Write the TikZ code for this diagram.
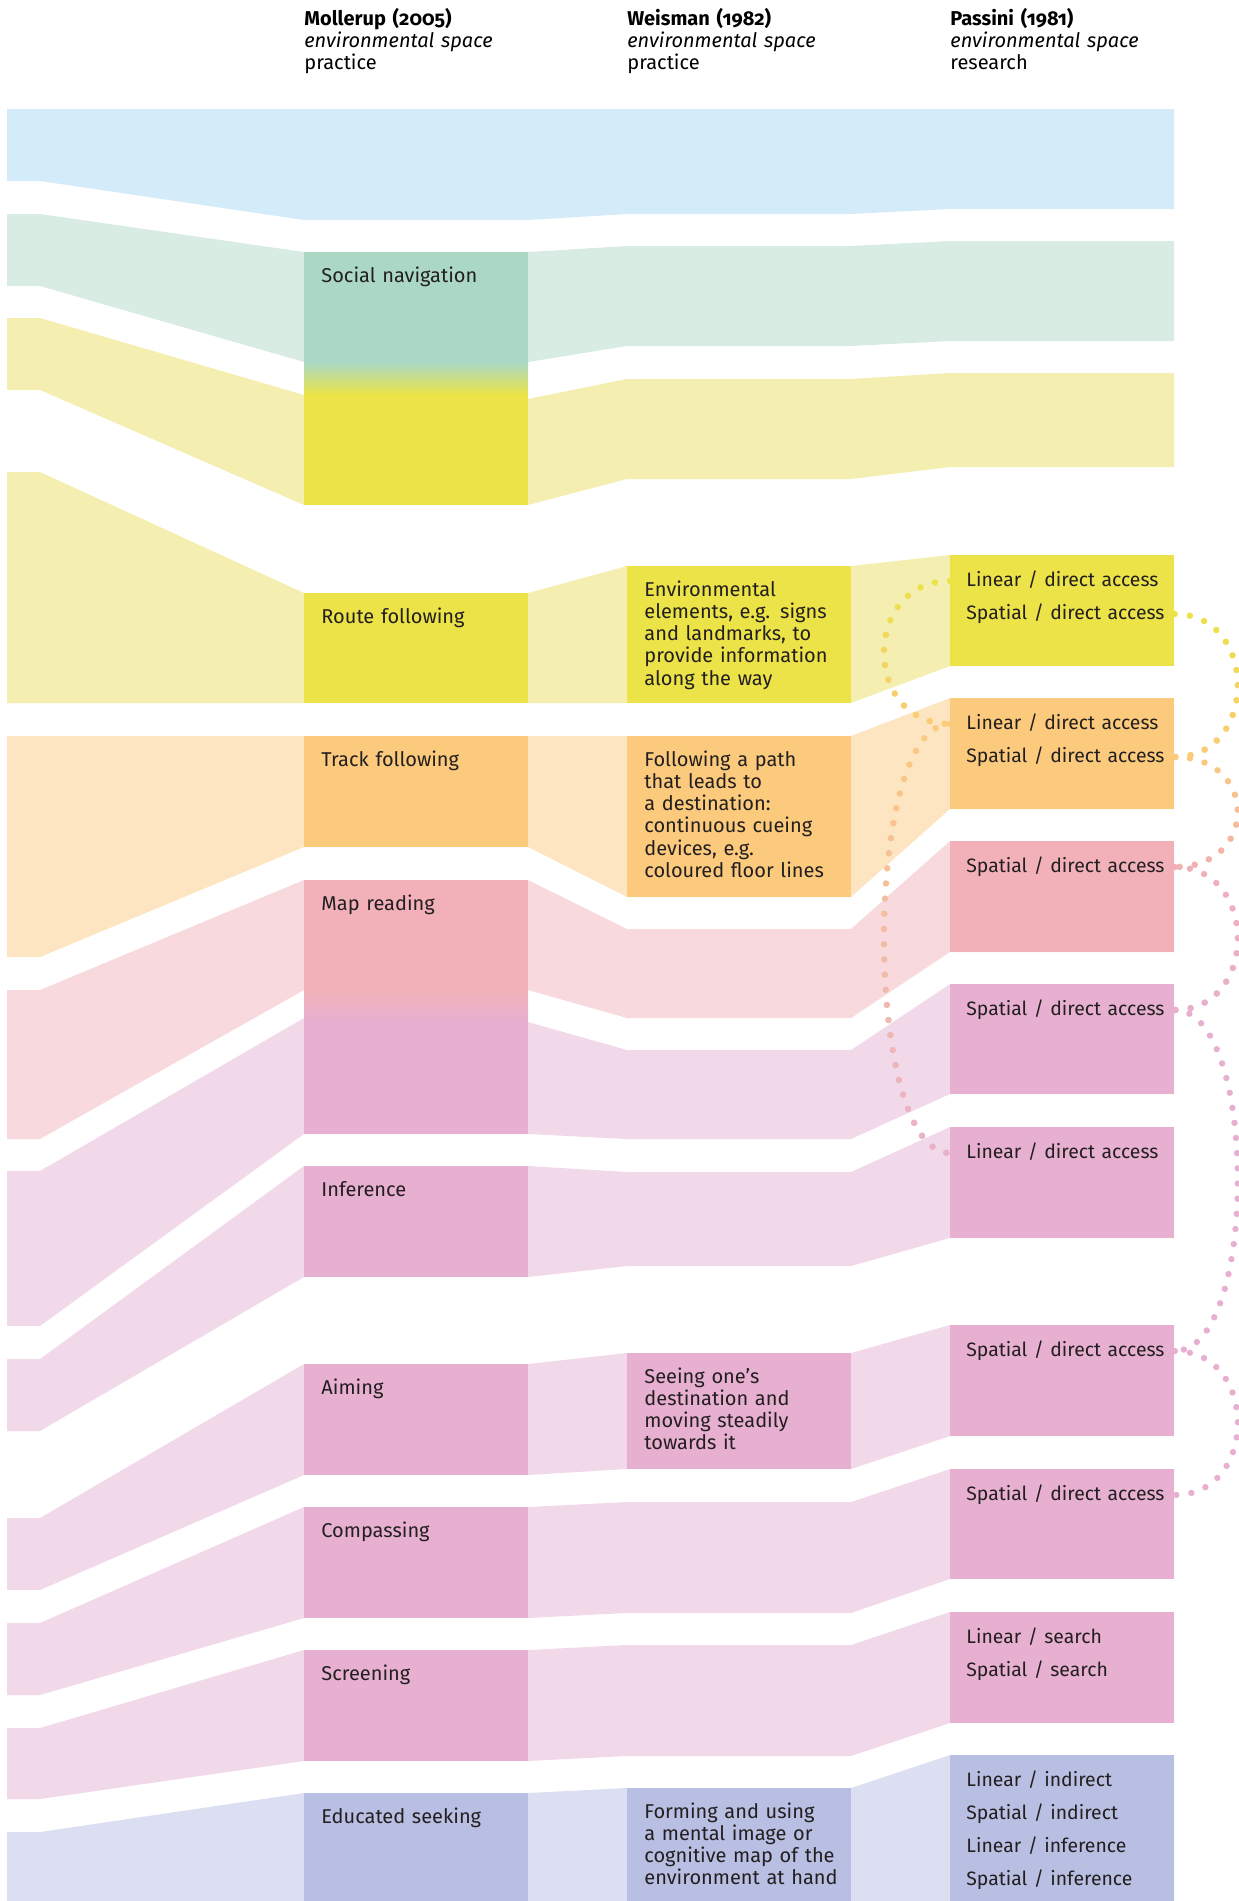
\documentclass[tikz,border=0pt]{standalone}
\usepackage{fontspec}
\setmainfont{Fira Sans}[Numbers=OldStyle, WordSpace=0.85]
\usetikzlibrary{fadings}

\definecolor{blueband}{HTML}{D4EBF9}
\definecolor{greenband}{HTML}{D8ECE3}
\definecolor{greenbox}{HTML}{AAD8C5}
\definecolor{yellowband}{HTML}{F4EFB1}
\definecolor{yellowbox}{HTML}{EBE347}
\definecolor{orangeband}{HTML}{FDE5C1}
\definecolor{orangebox}{HTML}{FCCA7C}
\definecolor{salmonband}{HTML}{F8D9DD}
\definecolor{salmonbox}{HTML}{F2B1B9}
\definecolor{pinkband}{HTML}{F2D9EA}
\definecolor{pinkbox}{HTML}{E8B0D0}
\definecolor{lavband}{HTML}{DCDFF1}
\definecolor{lavbox}{HTML}{B8BFE2}
\definecolor{inkgray}{HTML}{231F20}

\tikzfading[name=fadedown, top color=transparent!100, bottom color=transparent!0]

\tikzset{
  headtext/.style={anchor=base west, inner sep=0pt, text width=110pt, align=left,
    font=\fontsize{10pt}{11pt}\selectfont, text=black},
  boxtext/.style={anchor=base west, inner sep=0pt, text width=104pt, align=left,
    font=\fontsize{10pt}{11.15pt}\selectfont, text=inkgray},
  accline/.style={anchor=west, inner xsep=8pt, inner ysep=0pt, text width=96pt, align=left,
    text height=7pt, text depth=2pt, font=\fontsize{9.7pt}{12pt}\selectfont, text=inkgray,
    execute at begin node=\hbox to 96pt\bgroup, execute at end node=\hss\egroup},
  linkdots/.style={line width=3.2pt, line cap=round, dash pattern=on 0pt off 7.6pt},
  fadelink/.style 2 args={linkdots, draw=#1, postaction={linkdots, draw=#2, path fading=fadedown}}
}

\begin{document}
\begin{tikzpicture}[x=0.5pt, y=-0.5pt]

\useasboundingbox (0,0) rectangle (1238,1901);

\fill[blueband] (7,109) -- (1174,109) -- (1174,209) -- (950,209) -- (851,214) -- (627,214) -- (528,220) -- (304,220) -- (40,181) -- (7,181) -- cycle;
\fill[greenband] (7,214) -- (40,214) -- (304,252) -- (528,252) -- (627,246) -- (851,246) -- (950,241) -- (1174,241) -- (1174,341) -- (950,341) -- (851,346) -- (627,346) -- (528,362) -- (304,362) -- (40,286) -- (7,286) -- cycle;
\fill[yellowband] (7,318) -- (40,318) -- (304,395) -- (528,399) -- (627,379) -- (851,379) -- (950,373) -- (1174,373) -- (1174,467) -- (950,467) -- (851,479) -- (627,479) -- (528,505) -- (304,505) -- (40,390) -- (7,390) -- cycle;
\fill[yellowband] (7,472) -- (40,472) -- (304,593) -- (528,593) -- (627,566) -- (851,566) -- (950,555) -- (1174,555) -- (1174,666) -- (950,666) -- (851,703) -- (7,703) -- cycle;
\fill[orangeband] (7,736) -- (851,736) -- (950,698) -- (1174,698) -- (1174,809) -- (950,809) -- (851,897) -- (627,897) -- (528,847) -- (304,847) -- (40,957) -- (7,957) -- cycle;
\fill[salmonband] (7,990) -- (40,990) -- (304,880) -- (528,880) -- (627,929) -- (851,929) -- (950,841) -- (1174,841) -- (1174,952) -- (950,952) -- (851,1018) -- (627,1018) -- (528,990) -- (304,990) -- (40,1139) -- (7,1139) -- cycle;
\fill[pinkband] (7,1171) -- (40,1171) -- (304,1018) -- (528,1022) -- (627,1050) -- (851,1050) -- (950,984) -- (1174,984) -- (1174,1094) -- (950,1094) -- (851,1139) -- (627,1139) -- (528,1134) -- (304,1134) -- (40,1326) -- (7,1326) -- cycle;
\fill[pinkband] (7,1359) -- (40,1359) -- (304,1166) -- (528,1166) -- (627,1172) -- (851,1172) -- (950,1127) -- (1174,1127) -- (1174,1238) -- (950,1238) -- (851,1266) -- (627,1266) -- (528,1277) -- (304,1277) -- (40,1431) -- (7,1431) -- cycle;
\fill[pinkband] (7,1518) -- (40,1518) -- (304,1364) -- (528,1364) -- (627,1353) -- (851,1353) -- (950,1325) -- (1174,1325) -- (1174,1436) -- (950,1436) -- (851,1469) -- (627,1469) -- (528,1475) -- (304,1475) -- (40,1590) -- (7,1590) -- cycle;
\fill[pinkband] (7,1623) -- (40,1623) -- (304,1507) -- (528,1507) -- (627,1502) -- (851,1502) -- (950,1469) -- (1174,1469) -- (1174,1579) -- (950,1579) -- (851,1613) -- (627,1613) -- (528,1618) -- (304,1618) -- (40,1695) -- (7,1695) -- cycle;
\fill[pinkband] (7,1728) -- (40,1728) -- (304,1650) -- (528,1650) -- (627,1645) -- (851,1645) -- (950,1612) -- (1174,1612) -- (1174,1723) -- (950,1723) -- (851,1756) -- (627,1756) -- (528,1761) -- (304,1761) -- (40,1799) -- (7,1799) -- cycle;
\fill[lavband] (7,1832) -- (40,1832) -- (304,1793) -- (528,1793) -- (627,1788) -- (851,1788) -- (950,1755) -- (1174,1755) -- (1174,1901) -- (7,1901) -- cycle;

\fill[greenbox] (304,252) rectangle (528,362);
\shade[top color=greenbox, bottom color=yellowbox] (304,362) rectangle (528,395);
\fill[yellowbox] (304,395) rectangle (528,505);
\fill[yellowbox] (304,593) rectangle (528,703);
\fill[orangebox] (304,736) rectangle (528,847);
\fill[salmonbox] (304,880) rectangle (528,990);
\shade[top color=salmonbox, bottom color=pinkbox] (304,990) rectangle (528,1020);
\fill[pinkbox] (304,1020) rectangle (528,1134);
\fill[pinkbox] (304,1166) rectangle (528,1277);
\fill[pinkbox] (304,1364) rectangle (528,1475);
\fill[pinkbox] (304,1507) rectangle (528,1618);
\fill[pinkbox] (304,1650) rectangle (528,1761);
\fill[lavbox] (304,1793) rectangle (528,1901);

\fill[yellowbox] (627,566) rectangle (851,703);
\fill[orangebox] (627,736) rectangle (851,897);
\fill[pinkbox] (627,1353) rectangle (851,1469);
\fill[lavbox] (627,1788) rectangle (851,1901);

\fill[yellowbox] (950,555) rectangle (1174,666);
\fill[orangebox] (950,698) rectangle (1174,809);
\fill[salmonbox] (950,841) rectangle (1174,952);
\fill[pinkbox] (950,984) rectangle (1174,1094);
\fill[pinkbox] (950,1127) rectangle (1174,1238);
\fill[pinkbox] (950,1325) rectangle (1174,1436);
\fill[pinkbox] (950,1469) rectangle (1174,1579);
\fill[pinkbox] (950,1612) rectangle (1174,1723);
\fill[lavbox] (950,1755) rectangle (1174,1901);

\node[headtext] (mollH) at (304,25) {\textbf{Mollerup (2005)}\\\textit{environmental space}\\practice};
\node[headtext] (weisH) at (627,25) {\textbf{Weisman (1982)}\\\textit{environmental space}\\practice};
\node[headtext] (passH) at (950,25) {\textbf{Passini (1981)}\\\textit{environmental space}\\research};

\node[boxtext] (socT) at (321,282) {Social navigation};
\node[boxtext] (rteT) at (321,623) {Route following};
\node[boxtext] (trkT) at (321,766) {Track following};
\node[boxtext] (mapT) at (321,910) {Map reading};
\node[boxtext] (infT) at (321,1196) {Inference};
\node[boxtext] (aimT) at (321,1394) {Aiming};
\node[boxtext] (cmpT) at (321,1537) {Compassing};
\node[boxtext] (scrT) at (321,1680) {Screening};
\node[boxtext] (eduT) at (321,1823) {Educated seeking};

\node[boxtext] (envT) at (644,596) {Environmental\\elements, e.g. signs\\and landmarks, to\\provide information\\along the way};
\node[boxtext] (pthT) at (644,766) {Following a path\\that leads to\\a destination:\\continuous cueing\\devices, e.g.\\coloured floor lines};
\node[boxtext] (seeT) at (644,1383) {Seeing one’s\\destination and\\moving steadily\\towards it};
\node[boxtext] (frmT) at (644,1818) {Forming and using\\a mental image or\\cognitive map of the\\environment at hand};

\node[accline] (yelLin) at (950,581) {Linear / direct access};
\node[accline] (yelSpa) at (950,614) {Spatial / direct access};
\node[accline] (oraLin) at (950,724) {Linear / direct access};
\node[accline] (oraSpa) at (950,757) {Spatial / direct access};
\node[accline] (salSpa) at (950,867) {Spatial / direct access};
\node[accline] (mapSpa) at (950,1010) {Spatial / direct access};
\node[accline] (infLin) at (950,1153) {Linear / direct access};
\node[accline] (aimSpa) at (950,1351) {Spatial / direct access};
\node[accline] (cmpSpa) at (950,1495) {Spatial / direct access};
\node[accline] (scrLin) at (950,1638) {Linear / search};
\node[accline] (scrSpa) at (950,1671) {Spatial / search};
\node[accline] (eduLinInd) at (950,1781) {Linear / indirect};
\node[accline] (eduSpaInd) at (950,1814) {Spatial / indirect};
\node[accline] (eduLinInf) at (950,1847) {Linear / inference};
\node[accline] (eduSpaInf) at (950,1880) {Spatial / inference};

\draw[fadelink={yellowbox}{orangebox}] (yelLin.west) to[out=180, in=180, distance=44pt] (oraLin.west);
\draw[fadelink={orangebox}{pinkbox}] (oraLin.west) to[out=180, in=180, distance=44pt] (infLin.west);
\draw[fadelink={yellowbox}{orangebox}] (yelSpa.east) to[out=0, in=0, distance=42pt] (oraSpa.east);
\draw[fadelink={orangebox}{salmonbox}] (oraSpa.east) to[out=0, in=0, distance=42pt] (salSpa.east);
\draw[fadelink={salmonbox}{pinkbox}] (salSpa.east) to[out=0, in=0, distance=42pt] (mapSpa.east);
\draw[linkdots, pinkbox] (mapSpa.east) to[out=0, in=0, distance=42pt] (aimSpa.east);
\draw[linkdots, pinkbox] (aimSpa.east) to[out=0, in=0, distance=42pt] (cmpSpa.east);

\end{tikzpicture}
\end{document}
